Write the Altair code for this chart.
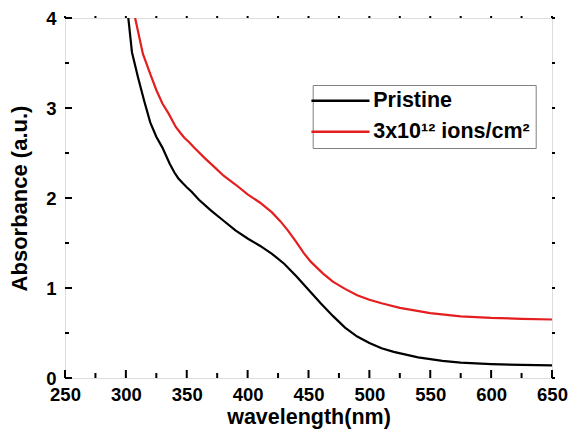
import altair as alt
import pandas as pd

# Pristine spectrum (wavelength nm, absorbance a.u.)
pristine_wl = [302, 305, 310, 315, 320, 325, 330, 336, 340, 343, 347, 350, 354, 360, 370, 380, 390,
               400, 410, 420, 430, 440, 450, 460, 470, 480, 490, 500, 510, 520, 530, 540, 550,
               560, 575, 600, 625, 650]
pristine_abs = [4.0, 3.62, 3.34, 3.08, 2.84, 2.68, 2.56, 2.38, 2.28, 2.22, 2.16, 2.12, 2.07, 1.98, 1.86,
                1.75, 1.64, 1.55, 1.47, 1.38, 1.27, 1.13, 0.98, 0.83, 0.69, 0.56, 0.46, 0.39, 0.33,
                0.29, 0.26, 0.23, 0.21, 0.19, 0.17, 0.155, 0.145, 0.14]

# Irradiated spectrum
irr_wl = [307.6, 310, 314, 320, 325, 330, 335, 341, 345, 348, 352, 356, 365, 373, 380, 390, 400, 410,
          420, 427, 433, 440, 446, 452, 462, 470, 480, 490, 500, 510, 525, 550, 575, 600, 625, 650]
irr_abs = [4.0, 3.85, 3.6, 3.38, 3.2, 3.05, 2.94, 2.79, 2.72, 2.67, 2.62, 2.56, 2.44, 2.34, 2.25, 2.15,
           2.04, 1.95, 1.84, 1.74, 1.64, 1.51, 1.39, 1.29, 1.16, 1.07, 0.99, 0.92, 0.87, 0.83, 0.78,
           0.72, 0.685, 0.667, 0.658, 0.65]

series_names = ["Pristine", "3x10¹² ions/cm²"]
series_colors = ["#000000", "#e41e1e"]

x_major = [250, 300, 350, 400, 450, 500, 550, 600, 650]
x_minor = [275, 325, 375, 425, 475, 525, 575, 625]
y_major = [0, 1, 2, 3, 4]
y_minor = [0.5, 1.5, 2.5, 3.5]

W, H = 487, 360
PAD = {"left": 57, "top": 10, "right": 16, "bottom": 54}
FONT = "Liberation Sans"

df = pd.concat([
    pd.DataFrame({"wl": pristine_wl, "A": pristine_abs, "series": series_names[0], "order": 0}),
    pd.DataFrame({"wl": irr_wl, "A": irr_abs, "series": series_names[1], "order": 1}),
])

xscale = alt.Scale(domain=[250, 650], nice=False, zero=False)
yscale = alt.Scale(domain=[0, 4], nice=False)

xaxis = alt.Axis(values=x_major, tickSize=0, labelPadding=7, domain=False, grid=False,
                 labelFontSize=18.5, labelFont=FONT, labelFontWeight="bold", labelColor="black",
                 titleFontSize=21.5, titleFont=FONT, titleFontWeight="bold", titleColor="black",
                 titlePadding=3, labelFlush=False)
yaxis = alt.Axis(values=y_major, tickSize=0, labelPadding=9, domain=False, grid=False,
                 labelFontSize=18.5, labelFont=FONT, labelFontWeight="bold", labelColor="black",
                 titleFontSize=22, titleFont=FONT, titleFontWeight="bold", titleColor="black",
                 titlePadding=14, labelFlush=False)

lines = alt.Chart(df).mark_line(strokeWidth=2.2, clip=True).encode(
    x=alt.X("wl:Q", scale=xscale, title="wavelength(nm)", axis=xaxis),
    y=alt.Y("A:Q", scale=yscale, title="Absorbance (a.u.)", axis=yaxis),
    color=alt.Color("series:N",
                    scale=alt.Scale(domain=series_names, range=series_colors),
                    sort=series_names,
                    legend=alt.Legend(orient="none", legendX=247.7, legendY=67, title=None,
                                      symbolType="M-5,0H5", symbolSize=135, symbolStrokeWidth=2.5,
                                      symbolOffset=12,
                                      labelFont=FONT, labelFontSize=21.5, labelFontWeight="bold",
                                      labelColor="black", strokeColor="#808080", fillColor="white",
                                      padding=5, rowPadding=8, labelOffset=22)),
    detail="series:N",
    order="order:Q",
)

def xrule(vals, y0, y1):
    return alt.Chart(pd.DataFrame({"v": vals})).mark_rule(color="black", strokeWidth=2).encode(
        x=alt.X("v:Q", scale=xscale, axis=None), y=alt.value(y0), y2=alt.value(y1))

def yrule(vals, x0, x1):
    return alt.Chart(pd.DataFrame({"v": vals})).mark_rule(color="black", strokeWidth=2).encode(
        y=alt.Y("v:Q", scale=yscale, axis=None), x=alt.value(x0), x2=alt.value(x1))

ticks = [
    xrule(x_major, H, H - 8), xrule(x_minor, H, H - 5),
    xrule(x_major, 0, -2), xrule(x_minor, 0, -2),
    yrule(y_major, 0, 7), yrule(y_minor, 0, 4),
    yrule(y_major, W, W + 3), yrule(y_minor, W, W + 3),
]

chart = alt.layer(lines, *ticks).resolve_axis(x="independent", y="independent").properties(
    width=W, height=H,
    autosize=alt.AutoSizeParams(type="none"),
    padding=PAD,
).configure_view(stroke="black", strokeWidth=2).configure(background="white")

chart.save("out.html", embed_options={"renderer": "svg", "actions": False})
